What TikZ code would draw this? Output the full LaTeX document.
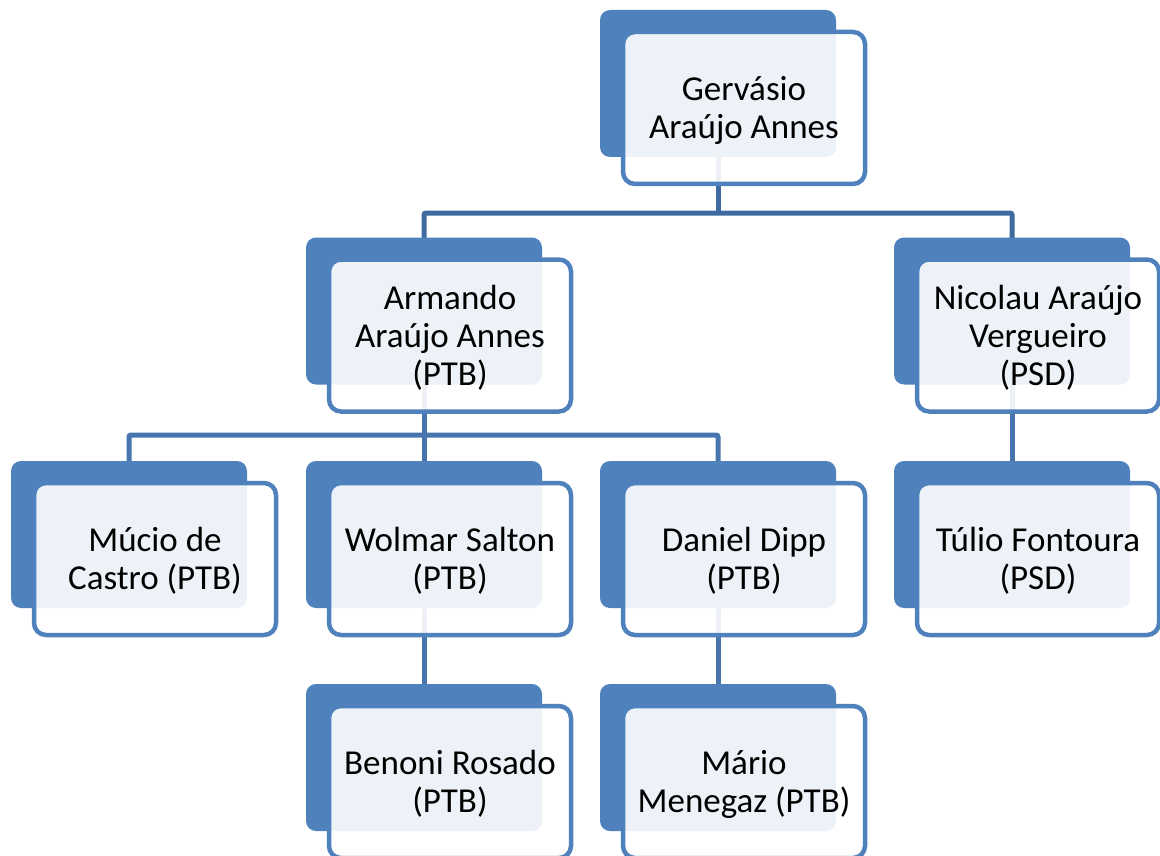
\documentclass[tikz,border=0pt]{standalone}
\usepackage{fontspec}
\setmainfont{Carlito}
\usetikzlibrary{calc}
\definecolor{accent}{HTML}{4F81BD}
\definecolor{connA}{HTML}{3F6A9F}
\definecolor{connB}{HTML}{4875AD}
\begin{document}
\begin{tikzpicture}[x=1pt,y=-1pt,
  backbox/.style={fill=accent, rounded corners=10pt, minimum width=236pt, minimum height=147pt, inner sep=0pt},
  frontbox/.style={draw=accent, line width=4.5pt, fill=white, fill opacity=0.9, draw opacity=1,
    rounded corners=12pt, minimum width=242pt, minimum height=152pt, inner sep=0pt},
  boxtext/.style={align=center, font=\fontsize{35}{38}\selectfont, text=black, inner sep=0pt},
  linkA/.style={draw=connA, line width=5pt, rounded corners=2pt},
  linkB/.style={draw=connB, line width=5pt, rounded corners=2pt},
]
\useasboundingbox (0,0) rectangle (1160,856);
\path
  coordinate (gc) at (718,83.5)
  coordinate (ac) at (424,311)
  coordinate (nc) at (1012,311)
  coordinate (mc) at (129,534.5)
  coordinate (wc) at (424,534.5)
  coordinate (dc) at (718,534.5)
  coordinate (tc) at (1012,534.5)
  coordinate (bc) at (424,757.5)
  coordinate (rc) at (718,757.5);
\coordinate (j1) at (718,213);
\coordinate (j2) at (424,435);
% connectors
\draw[linkA] (gc) -- (j1);
\draw[linkA] (ac) |- (j1) -| (nc);
\draw[linkB] (ac) -- (j2);
\draw[linkB] (mc) |- (j2) -| (dc);
\draw[linkB] (j2) -- (wc);
\draw[linkB] (nc) -- (tc);
\draw[linkB] (wc) -- (bc);
\draw[linkB] (dc) -- (rc);
% back and front boxes
\foreach \n in {g,a,n,m,w,d,t,b,r}{
  \node[backbox] (\n) at (\n c) {};
}
\foreach \n in {g,a,n,m,w,d,t,b,r}{
  \node[frontbox] (\n f) at ($(\n)+(26,24.5)$) {};
}
% texts
\node[boxtext] (gt) at ($(gf)+(0,2)$) {Gervásio\\Araújo Annes};
\node[boxtext] (at) at ($(af)+(0,2)$) {Armando\\Araújo Annes\\(PTB)};
\node[boxtext] (nt) at ($(nf)+(0,2)$) {Nicolau Araújo\\Vergueiro\\(PSD)};
\node[boxtext] (mt) at ($(mf)+(0,2)$) {Múcio de\\Castro (PTB)};
\node[boxtext] (wt) at ($(wf)+(0,2)$) {Wolmar Salton\\(PTB)};
\node[boxtext] (dt) at ($(df)+(0,2)$) {Daniel Dipp\\(PTB)};
\node[boxtext] (tt) at ($(tf)+(0,2)$) {Túlio Fontoura\\(PSD)};
\node[boxtext] (bt) at ($(bf)+(0,2)$) {Benoni Rosado\\(PTB)};
\node[boxtext] (rt) at ($(rf)+(0,2)$) {Mário\\Menegaz (PTB)};
\end{tikzpicture}
\end{document}
